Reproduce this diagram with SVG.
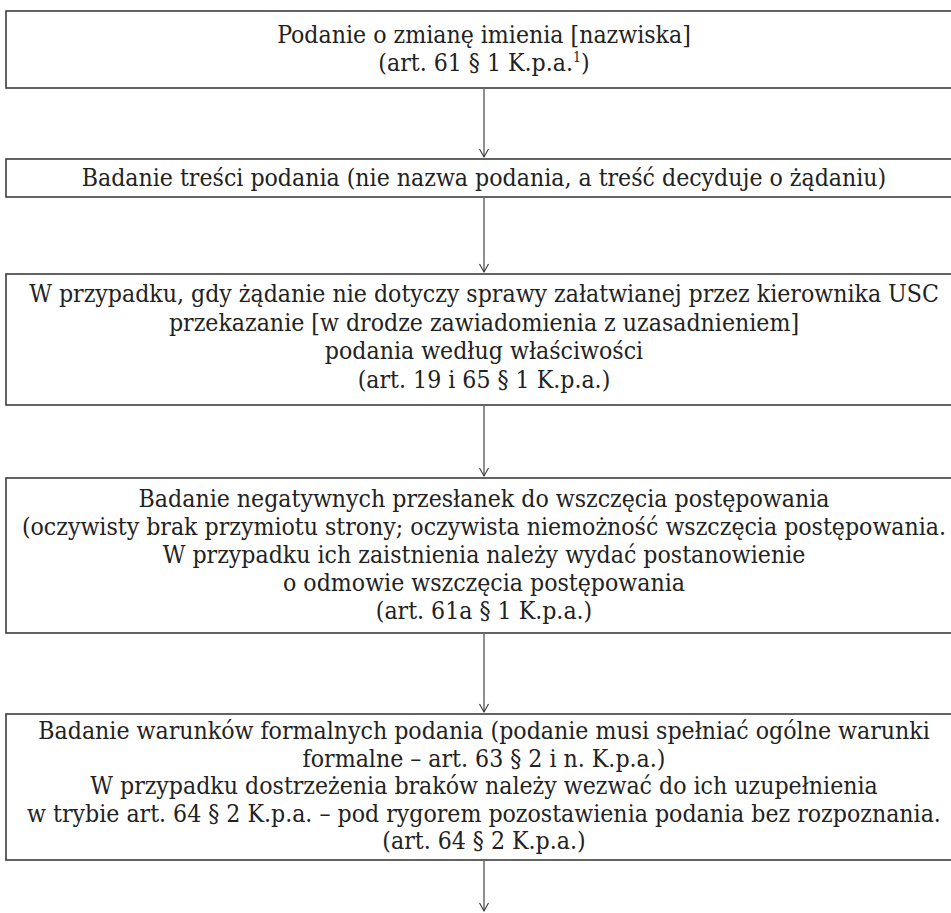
<svg xmlns="http://www.w3.org/2000/svg" width="951" height="913" viewBox="0 0 951 913">
<style>
.box{fill:#fff;stroke:#3c3c3c;stroke-width:1.6}
.t{font-family:"DejaVu Serif Condensed","DejaVu Serif","Liberation Serif",serif;font-stretch:condensed;font-size:24.6px;fill:#222;text-anchor:middle}
.c{stroke:#333;stroke-width:1.1;fill:none}
</style>
<defs>
<marker id="ah" markerUnits="userSpaceOnUse" viewBox="-10 -6 12 12" refX="0" refY="0" markerWidth="12" markerHeight="12" orient="auto">
<path d="M-8,-4.5 L0,0 L-8,4.5" fill="none" stroke="#333" stroke-width="1.1"/>
</marker>
</defs>
<rect width="951" height="913" fill="#fff"/>
<g id="n1">
<rect class="box" x="6" y="11" width="960" height="77"/>
<text class="t" x="484" y="43">Podanie o zmianę imienia [nazwiska]</text>
<text class="t" x="484" y="71">(art. 61 § 1 K.p.a.<tspan font-size="14" dy="-9">1</tspan><tspan dy="9">)</tspan></text>
</g>
<g id="n2">
<rect class="box" x="6" y="159" width="960" height="38"/>
<text class="t" x="484" y="186">Badanie treści podania (nie nazwa podania, a treść decyduje o żądaniu)</text>
</g>
<g id="n3">
<rect class="box" x="6" y="274" width="960" height="131"/>
<text class="t" x="484" y="302">W przypadku, gdy żądanie nie dotyczy sprawy załatwianej przez kierownika USC</text>
<text class="t" x="484" y="330.5">przekazanie [w drodze zawiadomienia z uzasadnieniem]</text>
<text class="t" x="484" y="359">podania według właściwości</text>
<text class="t" x="484" y="387.5">(art. 19 i 65 § 1 K.p.a.)</text>
</g>
<g id="n4">
<rect class="box" x="6" y="478" width="960" height="155"/>
<text class="t" x="484" y="507">Badanie negatywnych przesłanek do wszczęcia postępowania</text>
<text class="t" x="484" y="535">(oczywisty brak przymiotu strony; oczywista niemożność wszczęcia postępowania.</text>
<text class="t" x="484" y="563">W przypadku ich zaistnienia należy wydać postanowienie</text>
<text class="t" x="484" y="591">o odmowie wszczęcia postępowania</text>
<text class="t" x="484" y="619">(art. 61a § 1 K.p.a.)</text>
</g>
<g id="n5">
<rect class="box" x="6" y="714" width="960" height="146"/>
<text class="t" x="484" y="739">Badanie warunków formalnych podania (podanie musi spełniać ogólne warunki</text>
<text class="t" x="484" y="767">formalne – art. 63 § 2 i n. K.p.a.)</text>
<text class="t" x="484" y="794">W przypadku dostrzeżenia braków należy wezwać do ich uzupełnienia</text>
<text class="t" x="484" y="822">w trybie art. 64 § 2 K.p.a. – pod rygorem pozostawienia podania bez rozpoznania.</text>
<text class="t" x="484" y="849">(art. 64 § 2 K.p.a.)</text>
</g>
<g id="connectors">
<line class="c" x1="484" y1="89" x2="484" y2="157" marker-end="url(#ah)"/>
<line class="c" x1="484" y1="198" x2="484" y2="272" marker-end="url(#ah)"/>
<line class="c" x1="484" y1="406" x2="484" y2="476" marker-end="url(#ah)"/>
<line class="c" x1="484" y1="634" x2="484" y2="712" marker-end="url(#ah)"/>
<line class="c" x1="484" y1="861" x2="484" y2="911" marker-end="url(#ah)"/>
</g>
</svg>
